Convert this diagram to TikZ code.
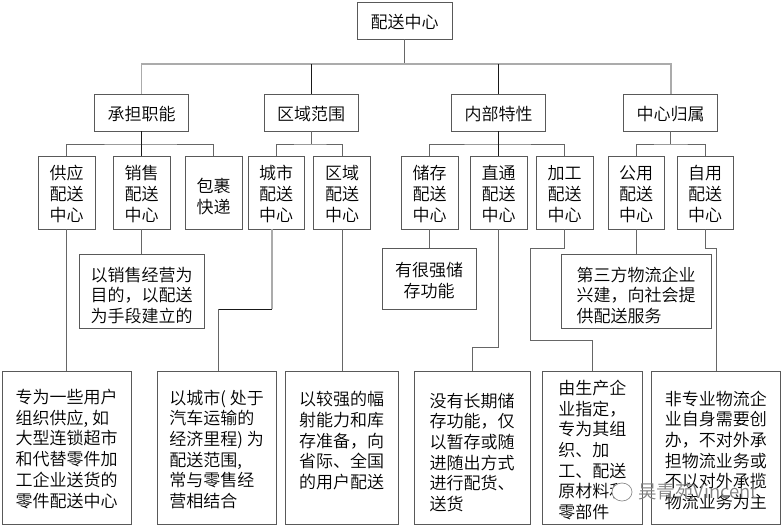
\documentclass[tikz,border=0pt]{standalone}
\usepackage{fontspec}
\setmainfont{Noto Sans CJK SC DemiLight}
\tikzset{
	box/.style={draw=black!65, line width=0.8pt, font=\fontsize{17}{20.7}\selectfont, inner sep=0pt, align=center, text=black, text depth=0pt},
	titlebox/.style={box, text height=16pt, minimum width=94, minimum height=37},
	typebox/.style={box, text height=57pt, minimum height=73},
	notebox/.style={box, align=left},
	conn/.style={draw=black!60, line width=0.8pt},
	connlight/.style={draw=black!33, line width=1.6pt},
	conndark/.style={draw=black!90, line width=0.9pt},
	watermark/.style={text=black!50, font=\fontsize{18.5}{20}\selectfont, inner sep=0pt}
}
\begin{document}
\begin{tikzpicture}[x=1pt, y=-1pt]
	\useasboundingbox (0, 0) rectangle (784, 528);
	\node[titlebox, minimum width=95] (root) at (404.5, 20.5) {配送中心};

	\node[titlebox] (chengdan) at (141.5, 112.5) {承担职能};
	\node[titlebox] (fanwei) at (311, 112.5) {区域范围};
	\node[titlebox] (texing) at (498.5, 112.5) {内部特性};
	\node[titlebox] (guishu) at (670.7, 112.5) {中心归属};

	\node[typebox, minimum width=57] (gongying) at (66.5, 192.5) {供应\\配送\\中心};
	\node[typebox, minimum width=57] (xiaoshou) at (141.5, 192.5) {销售\\配送\\中心};
	\node[typebox, text height=41pt, minimum width=57] (baoguo) at (213.7, 192.5) {包裹\\快递};
	\node[typebox, minimum width=56.5] (chengshi) at (276.2, 192.5) {城市\\配送\\中心};
	\node[typebox, minimum width=57] (quyu) at (342, 192.5) {区域\\配送\\中心};
	\node[typebox, minimum width=57] (chucun) at (429.5, 192.5) {储存\\配送\\中心};
	\node[typebox, minimum width=57] (zhitong) at (498.5, 192.5) {直通\\配送\\中心};
	\node[typebox, minimum width=57] (jiagong) at (564.5, 192.5) {加工\\配送\\中心};
	\node[typebox, minimum width=56.5] (gongyong) at (636.2, 192.5) {公用\\配送\\中心};
	\node[typebox, minimum width=56.5] (ziyong) at (705.2, 192.5) {自用\\配送\\中心};

	\node[notebox, text height=63pt, minimum width=125, minimum height=74] (xiaoshounote) at (141.5, 291) {以销售经营为\\目的，以配送\\为手段建立的};
	\node[notebox, text height=37pt, align=center, minimum width=94, minimum height=61] (chucunnote) at (429, 278.5) {有很强储\\存功能};
	\node[notebox, text height=63pt, minimum width=150, minimum height=74] (gongyongnote) at (636, 291) {第三方物流企业\\兴建，向社会提\\供配送服务};

	\node[notebox, text height=119pt, minimum width=128.5, minimum height=153] (gongyingnote) at (66.7, 447.5) {专为一些用户\\组织供应, 如\\大型连锁超市\\和代替零件加\\工企业送货的\\零件配送中心};
	\node[notebox, text height=120pt, minimum width=119.5, minimum height=153] (chengshinote) at (216.7, 447.5) {以城市( 处于\\汽车运输的\\经济里程) 为\\配送范围,\\常与零售经\\营相结合};
	\node[notebox, text height=82pt, minimum width=112.5, minimum height=153] (quyunote) at (341.7, 447.5) {以较强的幅\\射能力和库\\存准备，向\\省际、全国\\的用户配送};
	\node[notebox, text height=126pt, minimum width=116, minimum height=153] (zhitongnote) at (472, 447.5) {没有长期储\\存功能，仅\\以暂存或随\\进随出方式\\进行配货、\\送货};
	\node[notebox, text height=142pt, minimum width=100.7, minimum height=153] (jiagongnote) at (592.3, 447.5) {由生产企\\业指定，\\专为其组\\织、加\\工、配送\\原材料和\\零部件};
	\node[notebox, text height=122pt, minimum width=128.3, minimum height=153] (ziyongnote) at (715.8, 447.5) {非专业物流企\\业自身需要创\\办，不对外承\\担物流业务或\\不以对外承揽\\物流业务为主};

	\coordinate (bus) at (404.5, 64);
	\coordinate (chengdanbus) at (141.5, 144);
	\coordinate (fanweibus) at (311, 144);
	\coordinate (texingbus) at (498.5, 144);
	\coordinate (guishubus) at (670.7, 144);

	\draw[conn] (root.south) -- (bus);
	\draw[connlight] (chengdan.north) |- (bus) -| (guishu.north);
	\draw[conndark] (fanwei.north) -- (fanwei.north |- bus);
	\draw[conndark] (texing.north) -- (texing.north |- bus);

	\draw[conn] (gongying.north) |- (chengdanbus) -| (baoguo.north);
	\draw[conn] (chengshi.north) |- (fanweibus) -| (quyu.north);
	\draw[conn] (chucun.north) |- (texingbus) -| (jiagong.north);
	\draw[conn] (gongyong.north) |- (guishubus) -| (ziyong.north);
	\draw[conndark] (chengdan.south) -- (chengdanbus) -- (xiaoshou.north);
	\draw[conn] (fanwei.south) -- (fanweibus);
	\draw[conndark] (texing.south) -- (texingbus) -- (zhitong.north);
	\draw[conn] (guishu.south) -- (guishubus);

	\draw[conn] (gongying.south) -- (gongying.south |- gongyingnote.north);
	\draw[conn] (xiaoshou.south) -- (xiaoshounote.north);
	\draw[conn] (quyu.south) -- (quyu.south |- quyunote.north);
	\draw[conn] (chucun.south) -- (chucun.south |- chucunnote.north);
	\draw[conn] (gongyong.south) -- (gongyong.south |- gongyongnote.north);

	\coordinate (chengshidown) at (272, 229);
	\coordinate (chengshibend) at (272, 309);
	\coordinate (chengshileft) at (218, 309);
	\draw[connlight] (chengshidown) -- (chengshibend);
	\draw[conndark] (chengshibend) -- (chengshileft);
	\draw[conn] (chengshileft) -- (chengshileft |- chengshinote.north);

	\coordinate (zhitongbend) at (498.5, 347);
	\coordinate (zhitongleft) at (472, 347);
	\draw[conn] (zhitong.south) -- (zhitongbend) -- (zhitongleft) -- (zhitongnote.north);

	\coordinate (jiagongbend) at (564.5, 248);
	\coordinate (jiagongleft) at (530, 248);
	\coordinate (jiagonglow) at (530, 340);
	\coordinate (jiagongright) at (592.3, 340);
	\draw[conn] (jiagong.south) -- (jiagongbend) -- (jiagongleft) -- (jiagonglow) -- (jiagongright) -- (jiagongnote.north);

	\coordinate (ziyongbend) at (705.2, 248);
	\coordinate (ziyongright) at (716, 248);
	\draw[conn] (ziyong.south) -- (ziyongbend) -- (ziyongright) -- (ziyongright |- ziyongnote.north);

	\node[watermark] (mark) at (698, 491) {吴青苑Vincent};
	\draw[black!45, fill=white, line width=0.7pt] (622, 492) ellipse [x radius=10, y radius=9];
\end{tikzpicture}
\end{document}
